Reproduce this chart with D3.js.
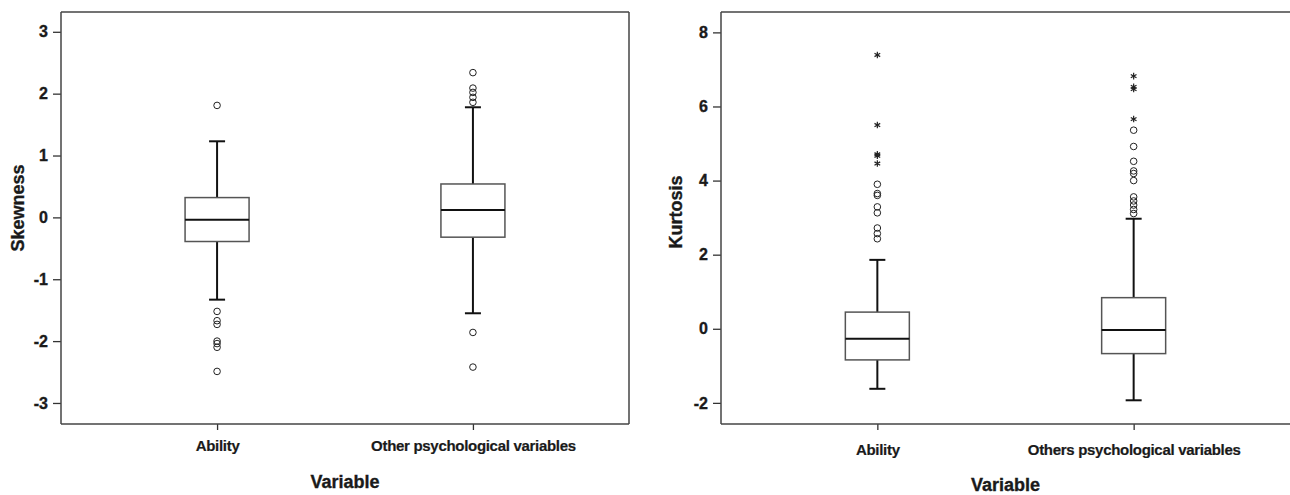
<!DOCTYPE html>
<html><head><meta charset="utf-8">
<script src="https://cdn.jsdelivr.net/npm/d3@7"></script>
<style>
html,body{margin:0;padding:0;background:#fff;}
svg text{font-family:"Liberation Sans",Arial,Helvetica,sans-serif;font-weight:bold;fill:#1a1a1a;stroke:#1a1a1a;stroke-width:0.35px;}
</style></head>
<body>
<svg id="chart" width="1290" height="495"></svg>
<script>
// ---------- data ----------
const categoriesLeft = ["Ability", "Other psychological variables"];
const categoriesRight = ["Ability", "Others psychological variables"];

// skewness: [lowWhisker, q1, median, q3, highWhisker]
const skewAbility = [-1.33, -0.39, -0.04, 0.32, 1.23];
const skewOther = [-1.55, -0.32, 0.12, 0.54, 1.78];
const skewAbilityOutliers = [1.81, -1.52, -1.67, -1.73, -2.00, -2.04, -2.10, -2.49];
const skewOtherOutliers = [2.34, 2.09, 2.02, 1.94, 1.86, -1.86, -2.42];

// kurtosis: [lowWhisker, q1, median, q3, highWhisker]
const kurtAbility = [-1.62, -0.84, -0.27, 0.45, 1.86];
const kurtOther = [-1.93, -0.67, -0.03, 0.84, 2.97];
const kurtAbilityOutliers = [3.90, 3.65, 3.60, 3.29, 3.13, 2.72, 2.57, 2.43];
const kurtAbilityExtremes = [7.39, 5.50, 4.71, 4.67, 4.46];
const kurtOtherOutliers = [5.36, 4.92, 4.52, 4.26, 4.19, 4.00, 3.56, 3.45, 3.34, 3.22, 3.11];
const kurtOtherExtremes = [6.82, 6.53, 6.47, 5.66];

const skewTicks = [-3, -2, -1, 0, 1, 2, 3];
const kurtTicks = [-2, 0, 2, 4, 6, 8];

// ---------- drawing ----------
const svg = d3.select("#chart");

function panel(cfg) {
  const g = svg.append("g");
  const x = d3.scalePoint().domain(cfg.cats).range([cfg.x0, cfg.x1]).padding(0.61);
  const y = d3.scaleLinear().domain(cfg.yDomain).range([424, 12]);

  // y axis
  const ya = g.append("g").attr("transform", `translate(${cfg.x0},0)`)
    .call(d3.axisLeft(y).tickValues(cfg.ticks).tickSize(8).tickPadding(5).tickFormat(d => String(d)));
  ya.select(".domain").remove();
  ya.selectAll(".tick line").attr("stroke", "#333").attr("stroke-width", 1.3);
  ya.selectAll(".tick text").style("font-size", "16px");

  // x axis
  const xa = g.append("g").attr("transform", "translate(0,424)")
    .call(d3.axisBottom(x).tickSize(6).tickPadding(cfg.xPad));
  xa.select(".domain").remove();
  xa.selectAll(".tick line").attr("stroke", "#333").attr("stroke-width", 1.3);
  xa.selectAll(".tick text").style("font-size", "15px").style("letter-spacing", "-0.3px").style("stroke-width", "0.2px");

  // frame
  const fr = g.append("g").attr("fill", "none").attr("stroke", "#444").attr("stroke-width", 1.5);
  fr.append("line").attr("x1", cfg.x0).attr("x2", cfg.x1).attr("y1", 12).attr("y2", 12);
  fr.append("line").attr("x1", cfg.x0).attr("x2", cfg.x1).attr("y1", 424).attr("y2", 424);
  fr.append("line").attr("x1", cfg.x0).attr("x2", cfg.x0).attr("y1", 12).attr("y2", 424);
  if (cfg.rightBorder) fr.append("line").attr("x1", cfg.x1).attr("x2", cfg.x1).attr("y1", 12).attr("y2", 424);

  const boxW = 64, capW = 16;
  cfg.stats.forEach((s, i) => {
    const cx = x(cfg.cats[i]);
    const [lw, q1, md, q3, hw] = s;
    const b = g.append("g");
    // whiskers
    b.append("line").attr("x1", cx).attr("x2", cx).attr("y1", y(q3)).attr("y2", y(hw)).attr("stroke", "#111").attr("stroke-width", 2);
    b.append("line").attr("x1", cx).attr("x2", cx).attr("y1", y(q1)).attr("y2", y(lw)).attr("stroke", "#111").attr("stroke-width", 2);
    b.append("line").attr("x1", cx - capW / 2).attr("x2", cx + capW / 2).attr("y1", y(hw)).attr("y2", y(hw)).attr("stroke", "#111").attr("stroke-width", 2);
    b.append("line").attr("x1", cx - capW / 2).attr("x2", cx + capW / 2).attr("y1", y(lw)).attr("y2", y(lw)).attr("stroke", "#111").attr("stroke-width", 2);
    // box
    b.append("rect").attr("x", cx - boxW / 2).attr("width", boxW)
      .attr("y", y(q3)).attr("height", y(q1) - y(q3))
      .attr("fill", "#fff").attr("stroke", "#555").attr("stroke-width", 1.5);
    // median
    b.append("line").attr("x1", cx - boxW / 2).attr("x2", cx + boxW / 2).attr("y1", y(md)).attr("y2", y(md)).attr("stroke", "#111").attr("stroke-width", 2);
    // outliers
    b.selectAll("circle.o").data(cfg.outliers[i]).join("circle")
      .attr("cx", cx).attr("cy", d => y(d)).attr("r", 3.3)
      .attr("fill", "none").attr("stroke", "#222").attr("stroke-width", 1);
    // extremes
    b.selectAll("path.e").data(cfg.extremes[i]).join("path")
      .attr("transform", d => `translate(${cx},${y(d)})`)
      .attr("d", d3.symbol(d3.symbolAsterisk, 30)())
      .attr("fill", "none").attr("stroke", "#222").attr("stroke-width", 1.2);
  });

  // axis titles
  g.append("text").attr("x", (cfg.x0 + cfg.x1) / 2).attr("y", cfg.xTitleY)
    .attr("text-anchor", "middle").style("font-size", "18px").text("Variable");
  g.append("text").attr("transform", `translate(${cfg.yTitleX},${cfg.yTitleY}) rotate(-90)`)
    .attr("text-anchor", "middle").style("font-size", "18px").text(cfg.yTitle);
}

panel({
  cats: categoriesLeft, x0: 61, x1: 629, yDomain: [-3.34, 3.32], ticks: skewTicks,
  stats: [skewAbility, skewOther], outliers: [skewAbilityOutliers, skewOtherOutliers], extremes: [[], []],
  rightBorder: true, xPad: 10.5, xTitleY: 488, yTitle: "Skewness", yTitleX: 24, yTitleY: 208
});

panel({
  cats: categoriesRight, x0: 721, x1: 1290, yDomain: [-2.57, 8.55], ticks: kurtTicks,
  stats: [kurtAbility, kurtOther], outliers: [kurtAbilityOutliers, kurtOtherOutliers], extremes: [kurtAbilityExtremes, kurtOtherExtremes],
  rightBorder: false, xPad: 14, xTitleY: 491, yTitle: "Kurtosis", yTitleX: 682, yTitleY: 212
});
</script>
</body></html>
